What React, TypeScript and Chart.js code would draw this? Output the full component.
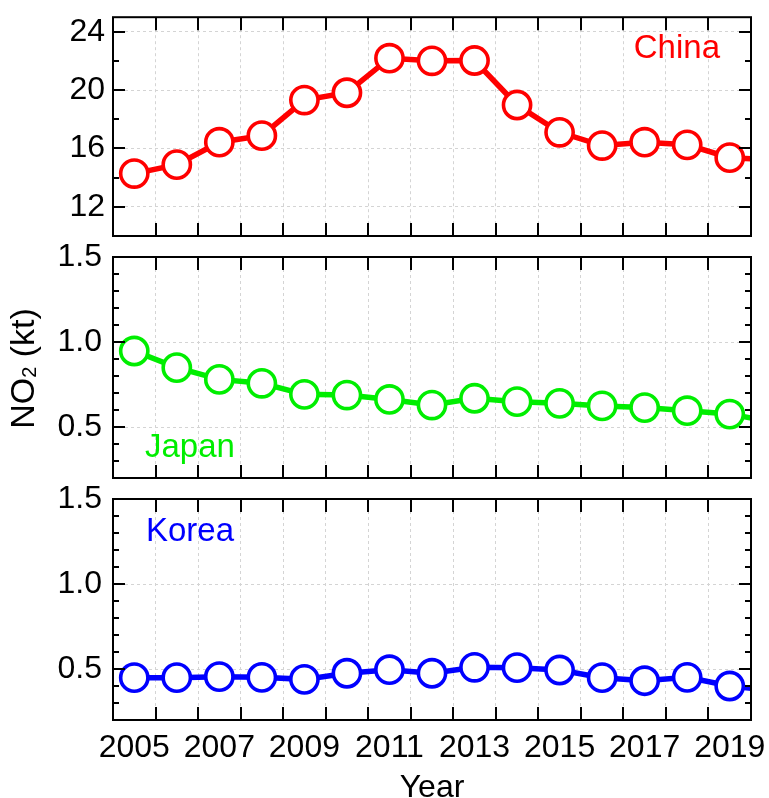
import React, { useEffect, useRef } from 'react';
import { Chart, registerables } from 'chart.js';

Chart.register(...registerables);

// ---------- data ----------
const YEARS = [2005, 2006, 2007, 2008, 2009, 2010, 2011, 2012, 2013, 2014, 2015, 2016, 2017, 2018, 2019, 2020];
const CHINA_NO2 = [14.28, 14.89, 16.43, 16.88, 19.32, 19.82, 22.19, 22.01, 22.03, 18.98, 17.11, 16.2, 16.43, 16.25, 15.37, 15.23];
const JAPAN_NO2 = [0.947, 0.849, 0.78, 0.757, 0.692, 0.688, 0.662, 0.629, 0.669, 0.649, 0.639, 0.624, 0.614, 0.596, 0.576, 0.53];
const KOREA_NO2 = [0.449, 0.449, 0.455, 0.451, 0.439, 0.475, 0.496, 0.475, 0.51, 0.508, 0.494, 0.449, 0.431, 0.451, 0.4, 0.373];
const X_LABEL_YEARS = [2005, 2007, 2009, 2011, 2013, 2015, 2017, 2019];
const VISIBLE_YEARS = YEARS.slice(0, 15);
const CHINA_MAJOR = [12, 16, 20, 24];
const CHINA_MINOR = [10, 14, 18, 22];
const SMALL_MAJOR = [0.5, 1.0, 1.5];
const SMALL_MINOR = [0.2, 0.3, 0.4, 0.6, 0.7, 0.8, 0.9, 1.1, 1.2, 1.3, 1.4];

const X_MIN = VISIBLE_YEARS[0] - 0.5;
const X_MAX = VISIBLE_YEARS[VISIBLE_YEARS.length - 1] + 0.5;
const X_BOUNDS = [X_MIN, ...VISIBLE_YEARS.map((y) => y + 0.5)];
const X_TICKS = [...X_BOUNDS, ...X_LABEL_YEARS].sort((a, b) => a - b);

const W = 769;
const H = 798;
const LEFT = 113;
const FONT = "'Liberation Sans', Arial, Helvetica, sans-serif";
const GRID = '#d4d4d4';

type PanelCfg = {
  name: string;
  values: number[];
  color: string;
  yMin: number;
  yMax: number;
  major: number[];
  minor: number[];
  top: number;
  bottom: number;
  showX: boolean;
  decimals: number;
  tickPad: number;
  label: 'tr' | 'bl' | 'tl';
  yTitle: boolean;
};

const PANELS: PanelCfg[] = [
  { name: 'China', values: CHINA_NO2, color: '#ff0000', yMin: 10, yMax: 25, major: CHINA_MAJOR, minor: CHINA_MINOR, top: 16, bottom: 236, showX: false, decimals: 0, tickPad: 8, label: 'tr', yTitle: false },
  { name: 'Japan', values: JAPAN_NO2, color: '#00ee00', yMin: 0.2, yMax: 1.5, major: SMALL_MAJOR, minor: SMALL_MINOR, top: 257, bottom: 478, showX: false, decimals: 1, tickPad: 11, label: 'bl', yTitle: true },
  { name: 'Korea', values: KOREA_NO2, color: '#0000ff', yMin: 0.2, yMax: 1.5, major: SMALL_MAJOR, minor: SMALL_MINOR, top: 499, bottom: 720, showX: true, decimals: 1, tickPad: 11, label: 'tl', yTitle: false },
];

const framePlugin = {
  id: 'frame',
  afterDraw(chart: any, _args: any, opts: any) {
    const { ctx, chartArea: a, scales } = chart;
    const xs = scales.x;
    const ys = scales.y;
    const cfg: PanelCfg = opts.cfg;
    ctx.save();
    ctx.strokeStyle = '#000';
    ctx.lineWidth = 2;
    ctx.beginPath();
    for (const v of X_BOUNDS) {
      const px = Math.round(xs.getPixelForValue(v));
      if (px <= a.left + 1 || px >= a.right - 1) continue;
      ctx.moveTo(px, a.top);
      ctx.lineTo(px, a.top + 13);
      ctx.moveTo(px, a.bottom);
      ctx.lineTo(px, a.bottom - 13);
    }
    for (const v of cfg.major) {
      const py = Math.round(ys.getPixelForValue(v));
      ctx.moveTo(a.left, py);
      ctx.lineTo(a.left + 12, py);
      ctx.moveTo(a.right, py);
      ctx.lineTo(a.right - 12, py);
    }
    for (const v of cfg.minor) {
      const py = Math.round(ys.getPixelForValue(v));
      ctx.moveTo(a.left, py);
      ctx.lineTo(a.left + 6, py);
      ctx.moveTo(a.right, py);
      ctx.lineTo(a.right - 6, py);
    }
    ctx.stroke();
    ctx.strokeRect(a.left, a.top, a.right - a.left, a.bottom - a.top);

    // panel label
    ctx.fillStyle = cfg.color;
    ctx.font = `33px ${FONT}`;
    ctx.textBaseline = 'alphabetic';
    if (cfg.label === 'tr') {
      ctx.textAlign = 'right';
      ctx.fillText(cfg.name, a.right - 31, a.top + 41);
    } else if (cfg.label === 'bl') {
      ctx.textAlign = 'left';
      ctx.fillText(cfg.name, a.left + 32, a.bottom - 21);
    } else {
      ctx.textAlign = 'left';
      ctx.fillText(cfg.name, a.left + 33, a.top + 42);
    }

    // y-axis title with subscript
    if (cfg.yTitle) {
      const cy = (a.top + a.bottom) / 2 + 1;
      ctx.fillStyle = '#000';
      ctx.translate(34, cy);
      ctx.rotate(-Math.PI / 2);
      ctx.textAlign = 'left';
      const big = `34px ${FONT}`;
      const small = `20px ${FONT}`;
      ctx.font = big;
      const w1 = ctx.measureText('NO').width;
      const w3 = ctx.measureText(' (kt)').width;
      ctx.font = small;
      const w2 = ctx.measureText('2').width;
      const total = w1 + w2 + w3;
      let x = -total / 2;
      ctx.font = big;
      ctx.fillText('NO', x, 0);
      x += w1;
      ctx.font = small;
      ctx.fillText('2', x, 2);
      x += w2;
      ctx.font = big;
      ctx.fillText(' (kt)', x, 0);
    }

    // x-axis title
    if (cfg.showX) {
      ctx.setTransform(1, 0, 0, 1, 0, 0);
      ctx.fillStyle = '#000';
      ctx.font = `32px ${FONT}`;
      ctx.textAlign = 'center';
      ctx.textBaseline = 'alphabetic';
      ctx.fillText('Year', (a.left + a.right) / 2, 797);
    }
    ctx.restore();
  },
};

function makeConfig(cfg: PanelCfg): any {
  return {
    type: 'line',
    data: {
      datasets: [
        {
          data: YEARS.map((x, i) => ({ x, y: cfg.values[i] })),
          borderColor: cfg.color,
          borderWidth: 5.5,
          pointRadius: 13.6,
          pointHoverRadius: 13.6,
          pointBorderWidth: 3.6,
          pointBackgroundColor: '#ffffff',
          pointBorderColor: cfg.color,
          tension: 0,
          clip: 0,
        },
      ],
    },
    options: {
      responsive: false,
      animation: false,
      devicePixelRatio: 1,
      events: [],
      layout: {
        padding: { left: 0, right: 18, top: cfg.top, bottom: cfg.showX ? 0 : H - cfg.bottom },
      },
      plugins: {
        legend: { display: false },
        tooltip: { enabled: false },
        title: { display: false },
        frame: { cfg },
      },
      scales: {
        x: {
          type: 'linear',
          min: X_MIN,
          max: X_MAX,
          afterBuildTicks: (s: any) => {
            s.ticks = X_TICKS.map((v) => ({ value: v }));
          },
          afterFit: (s: any) => {
            s.height = cfg.showX ? H - cfg.bottom : 0;
            s.paddingLeft = 0;
            s.paddingRight = 0;
            s.paddingTop = 0;
            s.paddingBottom = 0;
          },
          grid: {
            drawTicks: false,
            lineWidth: 1,
            color: (c: any) => {
              const v = c.tick ? c.tick.value : 0;
              if (Number.isInteger(v) || v <= X_MIN || v >= X_MAX) return 'rgba(0,0,0,0)';
              return GRID;
            },
          },
          border: { display: false, dash: [3, 3] },
          ticks: {
            display: cfg.showX,
            autoSkip: false,
            maxRotation: 0,
            minRotation: 0,
            padding: 9,
            color: '#000',
            font: { family: FONT, size: 32 },
            callback: (v: any) => (X_LABEL_YEARS.includes(Number(v)) ? String(v) : ''),
          },
        },
        y: {
          type: 'linear',
          min: cfg.yMin,
          max: cfg.yMax,
          afterBuildTicks: (s: any) => {
            s.ticks = cfg.major.map((v) => ({ value: v }));
          },
          afterFit: (s: any) => {
            s.width = LEFT;
            s.paddingLeft = 0;
            s.paddingRight = 0;
            s.paddingTop = 0;
            s.paddingBottom = 0;
          },
          grid: {
            drawTicks: false,
            lineWidth: 1,
            color: (c: any) => {
              const v = c.tick ? c.tick.value : 0;
              if (v >= cfg.yMax) return 'rgba(0,0,0,0)';
              return GRID;
            },
          },
          border: { display: false, dash: [3, 3] },
          ticks: {
            padding: cfg.tickPad,
            color: '#000',
            font: { family: FONT, size: 32 },
            callback: (v: any) => Number(v).toFixed(cfg.decimals),
          },
        },
      },
    },
    plugins: [framePlugin],
  };
}

export default function App() {
  const r0 = useRef<HTMLCanvasElement>(null);
  const r1 = useRef<HTMLCanvasElement>(null);
  const r2 = useRef<HTMLCanvasElement>(null);

  useEffect(() => {
    Chart.defaults.font.family = FONT;
    const refs = [r0, r1, r2];
    const charts = PANELS.map((cfg, i) => new Chart(refs[i].current as HTMLCanvasElement, makeConfig(cfg)));
    return () => charts.forEach((c) => c.destroy());
  }, []);

  const style: React.CSSProperties = { position: 'absolute', left: 0, top: 0, width: W, height: H };
  return (
    <div style={{ position: 'absolute', left: 0, top: 0, width: W, height: H, background: '#fff' }}>
      <canvas ref={r0} width={W} height={H} style={style} />
      <canvas ref={r1} width={W} height={H} style={style} />
      <canvas ref={r2} width={W} height={H} style={style} />
    </div>
  );
}
